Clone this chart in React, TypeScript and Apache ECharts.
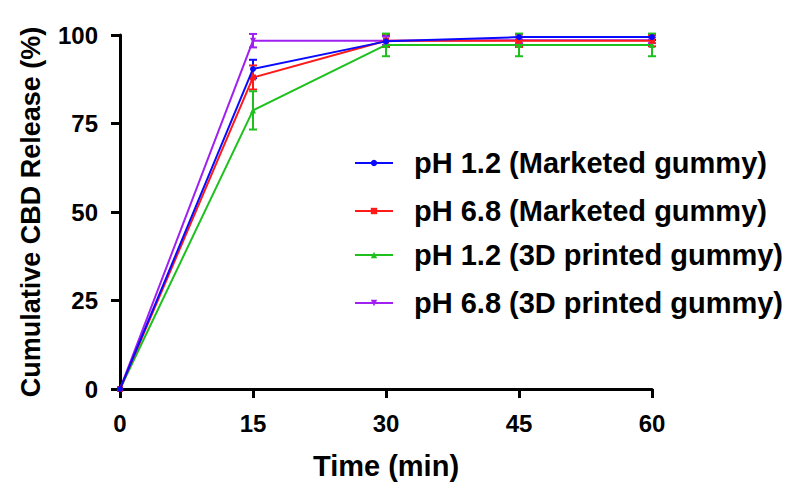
import React, { useEffect, useRef } from "react";
import * as echarts from "echarts";

const times = [0, 15, 30, 45, 60];
const seriesNames = [
  "pH 1.2 (Marketed gummy)",
  "pH 6.8 (Marketed gummy)",
  "pH 1.2 (3D printed gummy)",
  "pH 6.8 (3D printed gummy)",
];
const blueVals = [0, 90.4, 98.2, 99.4, 99.4];
const blueErr = [0, 2.6, 1.5, 0.8, 0.8];
const redVals = [0, 88.0, 98.4, 98.4, 98.4];
const redErr = [0, 3.4, 1.8, 1.8, 1.6];
const greenVals = [0, 78.7, 97.2, 97.2, 97.2];
const greenErr = [0, 5.4, 3.2, 3.2, 3.2];
const purpleVals = [0, 98.4, 98.4, 98.5, 98.5];
const purpleErr = [0, 1.9, 1.2, 0.8, 0.8];
const colors = ["#0a0aff", "#ff1a1a", "#1ec01e", "#a020f0"];
const symbols = ["circle", "rect", "triangle", "triangle"];
const rotations = [0, 0, 0, 180];
const legendCentersY = [163, 211, 255, 303];

export default function App() {
  const ref = useRef<HTMLDivElement>(null);
  useEffect(() => {
    const chart = echarts.init(ref.current!, null, { renderer: "svg" });
    const vals = [blueVals, redVals, greenVals, purpleVals];
    const errs = [blueErr, redErr, greenErr, purpleErr];
    const font = "Liberation Sans, Arial, sans-serif";
    const lineSeries: any[] = [];
    const errSeries: any[] = [];
    seriesNames.forEach((name, i) => {
      lineSeries.push({
        name,
        type: "line",
        data: times.map((t, k) => [t, vals[i][k]]),
        symbol: symbols[i],
        symbolRotate: rotations[i],
        symbolSize: 6,
        showSymbol: true,
        color: colors[i],
        lineStyle: { color: colors[i], width: 2 },
        itemStyle: { color: colors[i] },
        z: i === 0 ? 5 : i === 1 ? 4 : 3,
      });
      errSeries.push({
        name: name + " err",
        type: "custom",
        data: times
          .map((t, k) => [t, vals[i][k] - errs[i][k], vals[i][k] + errs[i][k]])
          .filter((d, k) => errs[i][k] > 0),
        renderItem: (params: any, api: any) => {
          const x = api.value(0);
          const lo = api.coord([x, api.value(1)]);
          const hi = api.coord([x, api.value(2)]);
          const hw = 4;
          const style = { stroke: colors[i], lineWidth: 2 };
          return {
            type: "group",
            children: [
              { type: "line", shape: { x1: lo[0], y1: lo[1], x2: hi[0], y2: hi[1] }, style },
              { type: "line", shape: { x1: lo[0] - hw, y1: lo[1], x2: lo[0] + hw, y2: lo[1] }, style },
              { type: "line", shape: { x1: hi[0] - hw, y1: hi[1], x2: hi[0] + hw, y2: hi[1] }, style },
            ],
          };
        },
        encode: { x: 0, y: [1, 2] },
        z: 2,
      });
    });
    const legends = seriesNames.map((name, i) => ({
      data: [name],
      orient: "vertical",
      left: 354,
      top: legendCentersY[i] - 15,
      padding: 0,
      itemWidth: 38,
      itemHeight: 8,
      textStyle: {
        fontSize: 29,
        lineHeight: 30,
        fontWeight: "bold",
        fontFamily: font,
        color: "#000",
        padding: [0, 0, 0, 16],
      },
    }));
    chart.setOption({
      animation: false,
      grid: { left: 120, right: 137, top: 35, bottom: 95, containLabel: false },
      legend: legends,
      xAxis: {
        type: "value",
        min: 0,
        max: 60,
        interval: 15,
        name: "Time (min)",
        nameLocation: "middle",
        nameGap: 62,
        nameTextStyle: { fontSize: 29, fontWeight: "bold", fontFamily: font, color: "#000" },
        axisLine: { show: true, onZero: false, lineStyle: { color: "#000", width: 3 } },
        axisTick: { show: true, length: 9, lineStyle: { color: "#000", width: 3 } },
        axisLabel: { fontSize: 24, fontWeight: "bold", fontFamily: font, color: "#000", margin: 22 },
        splitLine: { show: false },
      },
      yAxis: {
        type: "value",
        min: 0,
        max: 100,
        interval: 25,
        name: "Cumulative CBD Release (%)",
        nameLocation: "middle",
        nameGap: 76,
        nameTextStyle: { fontSize: 27, fontWeight: "bold", fontFamily: font, color: "#000" },
        axisLine: { show: true, lineStyle: { color: "#000", width: 3 } },
        axisTick: { show: true, length: 9, lineStyle: { color: "#000", width: 3 } },
        axisLabel: { fontSize: 24, fontWeight: "bold", fontFamily: font, color: "#000", margin: 22 },
        splitLine: { show: false },
      },
      series: [...errSeries, ...lineSeries],
    });
    return () => chart.dispose();
  }, []);
  return <div ref={ref} style={{ width: 789, height: 485, position: "absolute", left: 0, top: 0 }} />;
}
